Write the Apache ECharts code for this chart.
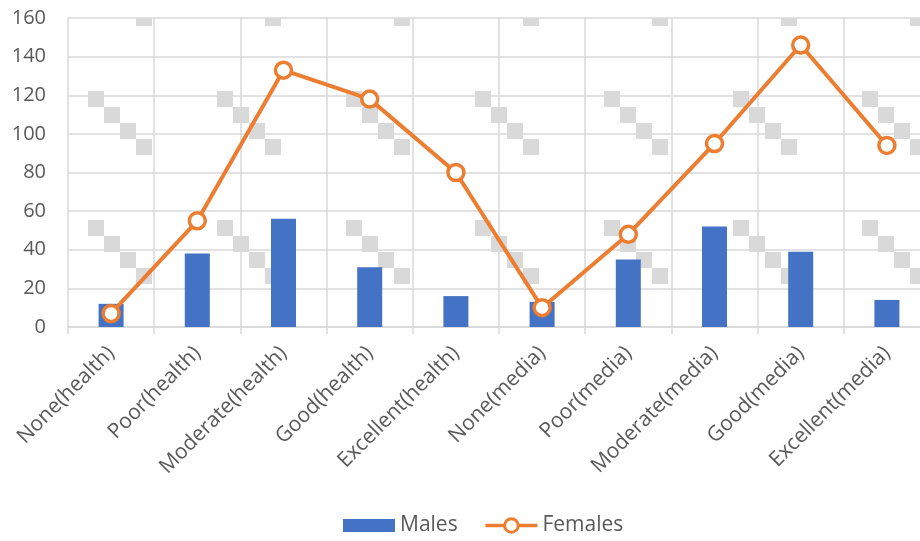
<!DOCTYPE html>
<html>
<head>
<meta charset="utf-8">
<script src="https://cdn.jsdelivr.net/npm/echarts@6/dist/echarts.min.js"></script>
<style>
  html, body { margin: 0; padding: 0; background: #ffffff; }
  #chart { width: 920px; height: 541px; }
</style>
</head>
<body>
<div id="chart"></div>
<script>
// Ratings by category, split by sex
const categories = [
  'None(health)', 'Poor(health)', 'Moderate(health)', 'Good(health)', 'Excellent(health)',
  'None(media)', 'Poor(media)', 'Moderate(media)', 'Good(media)', 'Excellent(media)'
];
const males   = [12, 38, 56, 31, 16, 13, 35, 52, 39, 14];
const females = [7, 55, 133, 118, 80, 10, 48, 95, 146, 94];
const yTicks  = [0, 20, 40, 60, 80, 100, 120, 140, 160];

const FONT = '"Open Sans", "Liberation Sans", sans-serif';
const TEXT = '#595959';
const GRID = '#d9d9d9';

// Light grey stepped-square texture for the plot background
function makeTexture() {
  const size = 129, sq = 16, ox = 88, oy = 91;
  const c = document.createElement('canvas');
  c.width = size; c.height = size;
  const g = c.getContext('2d');
  g.fillStyle = '#d9d9d9';
  for (let k = 0; k < 4; k++) {
    const x = (ox + sq * k) % size;
    const y = (oy + sq * k) % size;
    for (const dx of [0, -size]) {
      for (const dy of [0, -size]) {
        g.fillRect(x + dx, y + dy, sq, sq);
      }
    }
  }
  return c;
}

const chart = echarts.init(document.getElementById('chart'), null, { renderer: 'canvas' });

chart.setOption({
  animation: false,
  backgroundColor: '#ffffff',
  textStyle: { fontFamily: FONT },
  grid: {
    left: 68, top: 18, width: 862, height: 309,
    containLabel: false,
    outerBoundsMode: 'none',
    show: true,
    borderWidth: 0,
    backgroundColor: { image: makeTexture(), repeat: 'repeat' }
  },
  legend: {
    left: 338, top: 510,
    itemWidth: 52, itemHeight: 17,
    itemGap: 26,
    symbolKeepAspect: true,
    textStyle: { color: TEXT, fontSize: 21, fontFamily: FONT },
    data: [
      { name: 'Males', icon: 'path://M0,0H52V13H0Z' },
      {
        name: 'Females',
        lineStyle: { width: 3.5 },
        itemStyle: { borderWidth: 3 }
      }
    ]
  },
  xAxis: {
    type: 'category',
    data: categories,
    boundaryGap: true,
    axisLine: { show: true, lineStyle: { color: GRID, width: 1.5 } },
    axisTick: { show: true, length: 7, lineStyle: { color: GRID, width: 1.5 } },
    splitLine: { show: true, lineStyle: { color: GRID, width: 1.5 } },
    axisLabel: {
      rotate: 45, margin: 23,
      color: TEXT, fontSize: 21, fontFamily: FONT,
      interval: 0
    }
  },
  yAxis: {
    type: 'value',
    min: yTicks[0], max: yTicks[yTicks.length - 1], interval: 20,
    axisLine: { show: false },
    axisTick: { show: false },
    splitLine: { show: true, lineStyle: { color: GRID, width: 1.5 } },
    axisLabel: { color: TEXT, fontSize: 20, fontFamily: FONT, margin: 22 }
  },
  series: [
    {
      name: 'Males',
      type: 'bar',
      data: males,
      barWidth: 25,
      itemStyle: { color: '#4472C4' }
    },
    {
      name: 'Females',
      type: 'line',
      data: females,
      symbol: 'circle',
      symbolSize: 16,
      lineStyle: { color: '#ED7D31', width: 4 },
      itemStyle: { color: '#ffffff', borderColor: '#ED7D31', borderWidth: 3.5 },
      z: 3
    }
  ]
});
</script>
</body>
</html>
